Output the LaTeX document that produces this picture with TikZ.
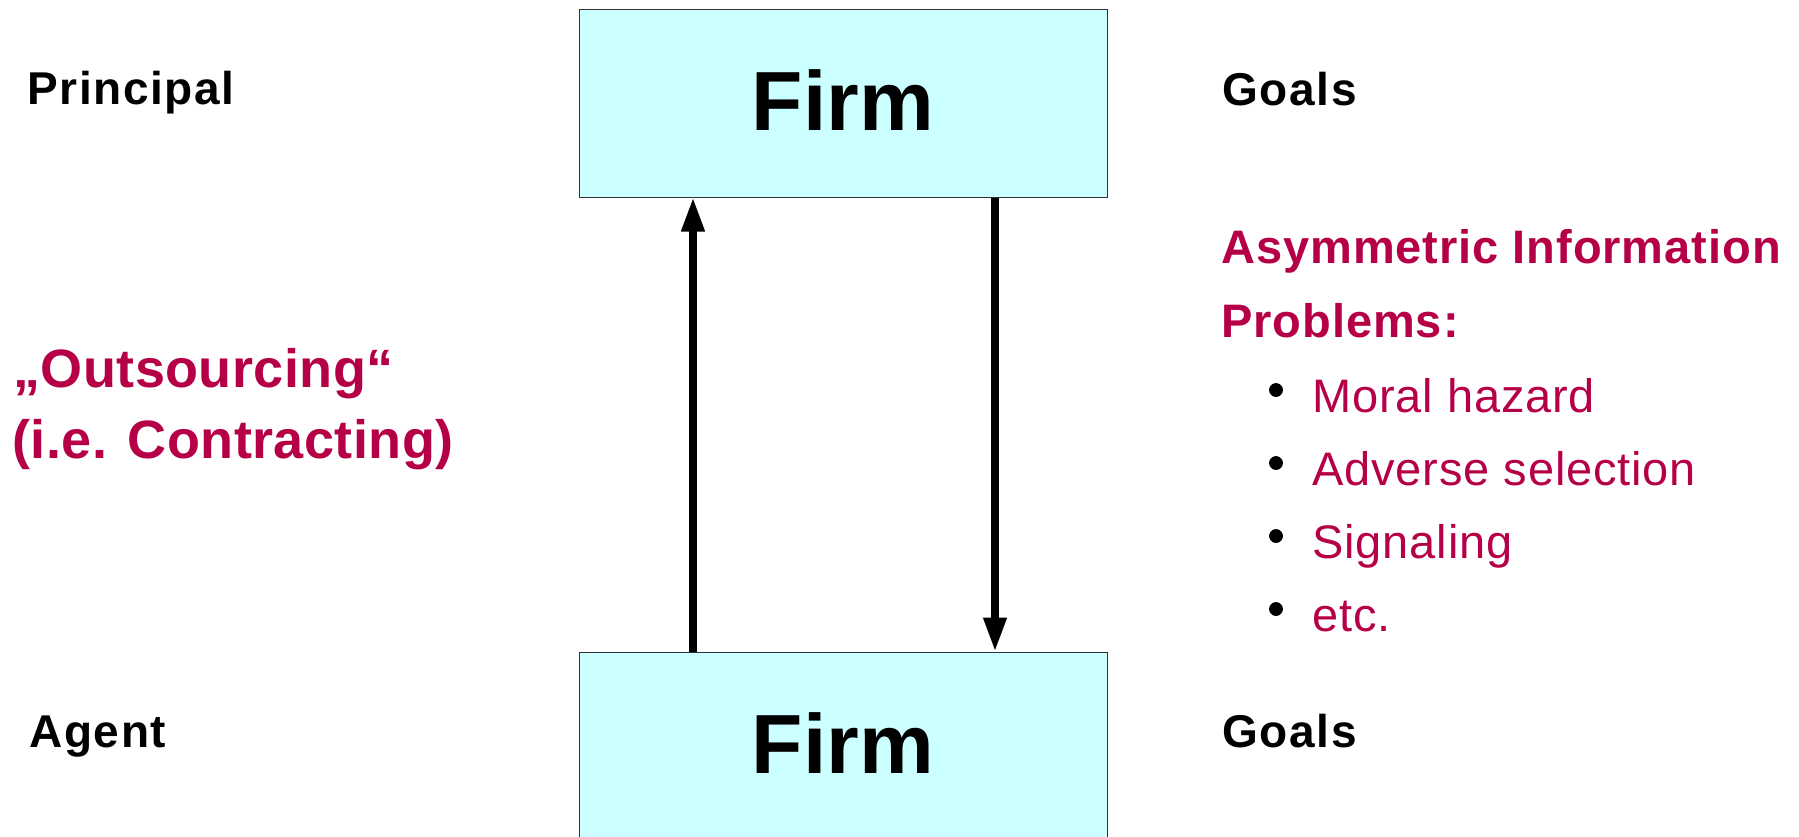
\documentclass[tikz,border=0pt]{standalone}
\usepackage{fontspec}
\setmainfont{Liberation Sans}
\usetikzlibrary{arrows.meta}
\definecolor{boxcyan}{RGB}{204,255,255}
\definecolor{asym}{RGB}{181,0,71}

\tikzset{
  firmbox/.style={draw=black!80,line width=0.5pt,fill=boxcyan,minimum width=264pt,
    minimum height=94pt,inner sep=0pt,text depth=3pt,font=\fontsize{42}{46}\selectfont\bfseries},
  lab/.style={anchor=base west,inner sep=0pt,
    font=\fontsize{23}{26}\selectfont\bfseries\addfontfeature{LetterSpace=3.5}},
  outs/.style={anchor=base west,inner sep=0pt,text=asym,
    font=\fontsize{27}{30}\selectfont\bfseries\addfontfeature{LetterSpace=0.8}},
  asymhead/.style={anchor=base west,inner sep=0pt,text=asym,
    font=\fontsize{23.5}{26}\selectfont\bfseries\addfontfeature{LetterSpace=2}},
  item/.style={anchor=base west,inner sep=0pt,text=asym,
    font=\fontsize{23.5}{26}\selectfont\addfontfeature{LetterSpace=1.8}},
  flow/.style={line width=3.65pt,-{Triangle[length=17pt,width=11pt]}}
}

\begin{document}
\begin{tikzpicture}[x=0.5pt,y=-0.5pt]
\clip (0,0) rectangle (1799,836);
\node[firmbox] (firmP) at (843,103) {Firm};
\node[firmbox] (firmA) at (843,746) {Firm};
\draw[flow] ([xshift=-75pt]firmA.north) -- ([xshift=-75pt]firmP.south);
\draw[flow] ([xshift=76pt]firmP.south) -- ([xshift=76pt]firmA.north);
\node[lab] (principal) at (27,104) {Principal};
\node[lab] (agent) at (29,747) {Agent};
\node[lab] (goalsP) at (1222,105) {Goals};
\node[lab] (goalsA) at (1222,747) {Goals};
\node[outs] (outsourcing) at (13,387) {„Outsourcing“};
\node[outs] (contracting) at (12,458) {(i.e. Contracting)};
\node[asymhead] (asyminfo) at (1221,263) {Asymmetric Information};
\node[asymhead] (problems) at (1221,337) {Problems:};
\node[item] (moral) at (1312,412) {Moral hazard};
\node[item] (adverse) at (1312,485) {Adverse selection};
\node[item] (signal) at (1312,558) {Signaling};
\node[item] (etc) at (1312,631) {etc.};
\draw[fill] (1276,390) circle(6.5);
\draw[fill] (1276,463) circle(6.5);
\draw[fill] (1276,536) circle(6.5);
\draw[fill] (1276,609) circle(6.5);
\end{tikzpicture}
\end{document}
